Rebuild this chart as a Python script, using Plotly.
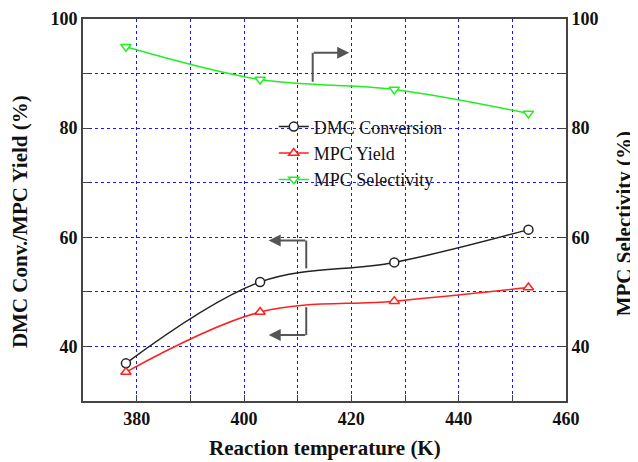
import plotly.graph_objects as go

temperature = [378, 403, 428, 453]
dmc_conversion = [36.9, 51.8, 55.4, 61.4]
mpc_yield = [35.3, 46.3, 48.3, 50.8]
mpc_selectivity = [94.9, 88.9, 87.1, 82.7]

x_grid = [370, 380, 390, 400, 410, 420, 430, 440, 450, 460]
x_labels = ["", "380", "", "400", "", "420", "", "440", "", "460"]
y_grid = [30, 40, 50, 60, 70, 80, 90, 100]
y_labels = ["", "40", "", "60", "", "80", "", "100"]

FONT = "Liberation Serif, Times New Roman, serif"
ARROW = "#555555"
AXIS = "#444444"
GRID = "#1515ff"

fig = go.Figure()

def add(name, y, color, symbol, yaxis="y"):
    fig.add_trace(go.Scatter(
        x=temperature, y=y, name=name, yaxis=yaxis,
        mode="lines+markers",
        line=dict(color=color, width=1.5, shape="spline", smoothing=1.0),
        marker=dict(symbol=symbol, size=9, color="white",
                    line=dict(color=color, width=1.5)),
    ))

add("DMC Conversion", dmc_conversion, "#222222", "circle")
add("MPC Yield", mpc_yield, "#ff2020", "triangle-up")
add("MPC Selectivity", mpc_selectivity, "#22ee22", "triangle-down", "y2")

tickfont = dict(size=18, family=FONT, weight="bold", color="#111111")
common = dict(ticks="inside", ticklen=6, tickcolor=AXIS, showline=True, linecolor=AXIS,
              linewidth=2, zeroline=False, automargin=False, tickfont=tickfont)

# the page body has an 8px default margin, so the figure is 8px smaller
fig.update_layout(
    width=630, height=454,
    margin=dict(l=75, r=72, t=11, b=61),
    paper_bgcolor="white", plot_bgcolor="white",
    font=dict(family=FONT, color="#111111"),
    showlegend=True,
    legend=dict(x=0.395, y=0.766, xanchor="left", yanchor="top",
                bgcolor="rgba(0,0,0,0)", font=dict(size=18, family=FONT),
                tracegroupgap=0, itemwidth=30),
    xaxis=dict(range=[370, 460], tickvals=x_grid, ticktext=x_labels, showgrid=True,
               gridcolor=GRID, griddash="dot", gridwidth=1.2, mirror=True, **common),
    yaxis=dict(range=[30, 100], tickvals=y_grid, ticktext=y_labels, showgrid=True,
               gridcolor=GRID, griddash="dot", gridwidth=1.2, **common),
    yaxis2=dict(range=[30, 100], tickvals=y_grid, ticktext=y_labels, overlaying="y",
                side="right", showgrid=False, **common),
)

titles = [
    ("<b>Reaction temperature (K)</b>", 0.5, -0.123, 0),
    ("<b>DMC Conv./MPC Yield (%)</b>", -0.130, 0.469, -90),
    ("<b>MPC Selectivity (%)</b>", 1.120, 0.465, -90),
]
for text, x, y, angle in titles:
    fig.add_annotation(text=text, x=x, y=y, xref="paper", yref="paper",
                       xanchor="center", yanchor="middle", textangle=angle,
                       showarrow=False, font=dict(size=21, family=FONT, color="#111111"))

# indicator arrows (bracket + arrow pointing to the relevant axis)
brackets = [
    # (vertical x, y from, y to, arrow head x)
    (412.8, 88.5, 93.8, 419.6),
    (411.6, 54.3, 59.4, 404.6),
    (411.6, 47.2, 42.1, 404.6),
]
for vx, y0, y1, hx in brackets:
    fig.add_shape(type="line", x0=vx, x1=vx, y0=y0, y1=y1, xref="x", yref="y",
                  line=dict(color=ARROW, width=2))
    fig.add_annotation(x=hx, y=y1, ax=vx - 0.1 if hx > vx else vx + 0.1, ay=y1,
                       xref="x", yref="y", axref="x", ayref="y", text="",
                       showarrow=True, arrowhead=2, arrowsize=1.2, arrowwidth=2,
                       arrowcolor=ARROW)

fig.write_html("out.html")
